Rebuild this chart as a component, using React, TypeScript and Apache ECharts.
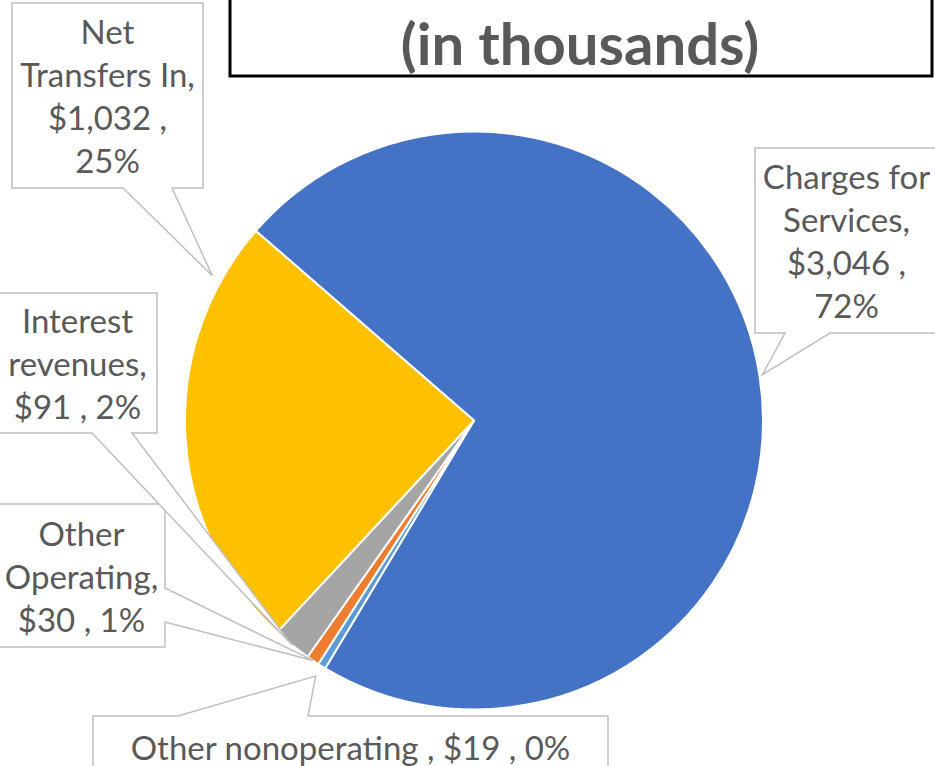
import React, { useEffect, useRef } from "react";
import * as echarts from "echarts";

// ---- data ----
const categories = ["Charges for Services", "Other nonoperating ", "Other Operating", "Interest revenues", "Net Transfers In"];
const values = [3046, 19, 30, 91, 1032];
const percentLabels = [72, 0, 1, 2, 25];
const colors = ["#4472C4", "#5B9BD5", "#ED7D31", "#A5A5A5", "#FFC000"];
const titleText = "(in thousands)";

// ---- layout ----
const W = 935;
const H = 766;
const CX = 474;
const CY = 420.5;
const R = 289;
const START_ANGLE = 139;
const FONT = "Lato, 'Noto Sans', sans-serif";
const LABEL_FONT = `33px ${FONT}`;
const TEXT_COLOR = "#595959";

type Callout = {
  box: [number, number, number, number];
  side: "top" | "bottom" | "right";
  base: [number, number];
  tipR: number;
  tipShift: number;
  wrap: number;
};

const callouts: Callout[] = [
  { box: [755, 148, 183, 185], side: "bottom", base: [785, 830], tipR: 1.01, tipShift: 0, wrap: 178 },
  { box: [93, 716, 515, 62], side: "top", base: [178, 308], tipR: 1.04, tipShift: 0, wrap: 505 },
  { box: [-2, 504, 167, 143], side: "right", base: [588, 622], tipR: 1.0, tipShift: 0, wrap: 162 },
  { box: [-2, 293, 159, 140], side: "bottom", base: [92, 132], tipR: 1.0, tipShift: 0, wrap: 152 },
  { box: [12, 3, 191, 185], side: "bottom", base: [123, 172], tipR: 1.035, tipShift: -32, wrap: 186 },
];

function fmtMoney(v: number) {
  return "$" + v.toLocaleString("en-US");
}

let measureCtx: CanvasRenderingContext2D | null = null;
function wrapText(text: string, maxWidth: number, font: string) {
  if (!measureCtx) measureCtx = document.createElement("canvas").getContext("2d");
  const ctx = measureCtx!;
  ctx.font = font;
  const words = text.split(/\s+/).filter((w) => w.length);
  const lines: string[] = [];
  let cur = "";
  words.forEach((w) => {
    const trial = cur ? cur + " " + w : w;
    if (cur && ctx.measureText(trial).width > maxWidth) {
      lines.push(cur);
      cur = w;
    } else {
      cur = trial;
    }
  });
  if (cur) lines.push(cur);
  return lines.join("\n");
}

function buildGraphics() {
  const total = values.reduce((a, b) => a + b, 0);
  const els: any[] = [];
  let cum = 0;
  values.forEach((v, i) => {
    const mid = START_ANGLE - ((cum + v / 2) / total) * 360;
    cum += v;
    const c = callouts[i];
    const a = ((mid + c.tipShift) * Math.PI) / 180;
    const tip: [number, number] = [CX + R * c.tipR * Math.cos(a), CY - R * c.tipR * Math.sin(a)];
    const [x, y, w, h] = c.box;
    let pts: number[][] = [];
    if (c.side === "bottom") {
      pts = [[x, y], [x + w, y], [x + w, y + h], [c.base[1], y + h], tip, [c.base[0], y + h], [x, y + h]];
    } else if (c.side === "top") {
      pts = [[x, y], [c.base[0], y], tip, [c.base[1], y], [x + w, y], [x + w, y + h], [x, y + h]];
    } else {
      pts = [[x, y], [x + w, y], [x + w, c.base[0]], tip, [x + w, c.base[1]], [x + w, y + h], [x, y + h]];
    }
    els.push({
      type: "polygon",
      z: 100,
      shape: { points: pts },
      style: { fill: "#ffffff", stroke: "#BFBFBF", lineWidth: 1.5 },
    });
    const raw = `${categories[i].trim()}${categories[i].endsWith(" ") ? " " : ""}, ${fmtMoney(v)} , ${percentLabels[i]}%`;
    els.push({
      type: "text",
      z: 101,
      x: x + w / 2,
      y: y + h / 2,
      style: {
        text: wrapText(raw, c.wrap, LABEL_FONT),
        align: "center",
        verticalAlign: "middle",
        font: LABEL_FONT,
        lineHeight: 43,
        fill: TEXT_COLOR,
      },
    });
  });
  // title box
  els.push({
    type: "rect",
    z: 100,
    shape: { x: 230, y: -10, width: 702, height: 86 },
    style: { fill: "#ffffff", stroke: "#000000", lineWidth: 3 },
  });
  els.push({
    type: "text",
    z: 101,
    x: 580,
    y: 42,
    style: {
      text: titleText,
      align: "center",
      verticalAlign: "middle",
      font: `bold 58px ${FONT}`,
      fill: TEXT_COLOR,
    },
  });
  return els;
}

export default function App() {
  const ref = useRef<HTMLDivElement>(null);
  useEffect(() => {
    if (!ref.current) return;
    const chart = echarts.init(ref.current, undefined, { renderer: "svg" });
    chart.setOption({
      animation: false,
      backgroundColor: "#ffffff",
      series: [
        {
          type: "pie",
          center: [CX, CY],
          radius: R,
          startAngle: START_ANGLE,
          clockwise: true,
          label: { show: false },
          labelLine: { show: false },
          emphasis: { disabled: true },
          itemStyle: { borderColor: "#ffffff", borderWidth: 2 },
          data: categories.map((name, i) => ({
            name,
            value: values[i],
            itemStyle: { color: colors[i] },
          })),
        },
      ],
      graphic: buildGraphics(),
    });
    return () => chart.dispose();
  }, []);
  return (
    <div
      ref={ref}
      style={{ position: "fixed", left: 0, top: 0, width: W, height: H, background: "#fff" }}
    />
  );
}
